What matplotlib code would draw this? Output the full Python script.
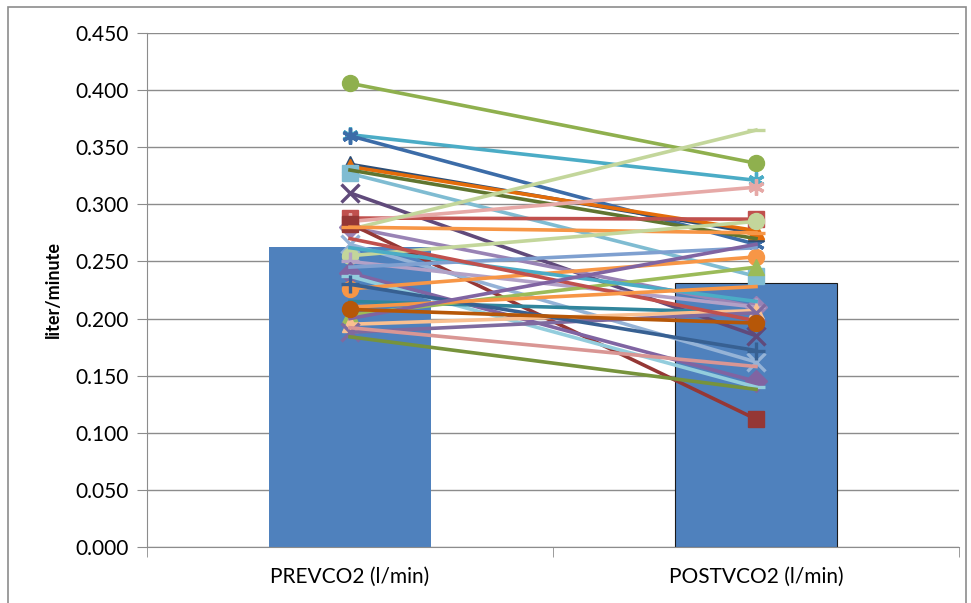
import matplotlib
matplotlib.use("Agg")
import matplotlib.pyplot as plt
from matplotlib.patches import Rectangle

categories = ["PREVCO2 (l/min)", "POSTVCO2 (l/min)"]
bar_means = [0.263, 0.231]

pre = [0.406, 0.361, 0.360, 0.335, 0.333, 0.327, 0.330, 0.310, 0.288, 0.285,
       0.278, 0.280, 0.283, 0.280, 0.265, 0.255, 0.250, 0.240, 0.237, 0.226,
       0.215, 0.203, 0.195, 0.188, 0.184, 0.192, 0.230, 0.262, 0.245, 0.270,
       0.210, 0.200, 0.208]
post = [0.336, 0.321, 0.265, 0.275, 0.277, 0.237, 0.270, 0.185, 0.287, 0.315,
        0.365, 0.210, 0.112, 0.275, 0.162, 0.285, 0.210, 0.145, 0.140, 0.254,
        0.205, 0.245, 0.207, 0.205, 0.138, 0.158, 0.172, 0.215, 0.262, 0.198,
        0.228, 0.265, 0.196]

yticks = [0.0, 0.05, 0.10, 0.15, 0.20, 0.25, 0.30, 0.35, 0.40, 0.45]

colors = ["#8FB04E", "#4BACC6", "#3C6CA8", "#2C4D75", "#E46C0A", "#7FBCD2",
          "#5F7530", "#604A7B", "#C0504D", "#E6A9A7", "#C3D69B", "#9983B5",
          "#953735", "#F79646", "#95B3D7", "#C3D69B", "#B2A1C7", "#8064A2",
          "#93CDDD", "#F79646", "#31859C", "#9BBB59", "#FAC090", "#7F6A9F",
          "#77933C", "#D99694", "#376092", "#4BACC6", "#7FA0D0", "#C0504D",
          "#F79646", "#8064A2", "#B65708"]
asterisk = (6, 2, 0)
markers = ["o", asterisk, asterisk, "^", "^", "s", None, "x", "s", asterisk,
           "_", "D", "s", "_", "x", "o", "+", "D", "_", "o",
           None, "^", "^", "x", None, None, "+", None, None, None,
           None, None, "o"]

fig = plt.figure(figsize=(9.71, 6.03), dpi=100)
fig.patches.append(Rectangle((8/971, -0.01), (966-8)/971, 1 - 7/603 + 0.01,
                             transform=fig.transFigure, fill=False,
                             edgecolor="#8C8C8C", linewidth=1.2))
ax = fig.add_axes([147/971, 1-547/603, (959-147)/971, (547-33)/603])

x = [0, 1]
bars = ax.bar(x, bar_means, width=0.4, color="#4F81BD", zorder=2)
bars[1].set_edgecolor("#1A1A1A")
bars[1].set_linewidth(0.8)

for i, (a, b) in enumerate(zip(pre, post)):
    m = markers[i]
    ax.plot(x, [a, b], color=colors[i], linewidth=2.6, zorder=3,
            marker=m if m is not None else "",
            markersize=11.5 if m not in ("x", "+", "_") else 12.5,
            markeredgewidth=2.4 if m in ("x", "+", "_", asterisk) else 1,
            markeredgecolor=colors[i], markerfacecolor=colors[i])

ax.set_xlim(-0.5, 1.5)
ax.set_ylim(0, 0.45)
ax.set_yticks(yticks)
ax.set_yticklabels([f"{v:.3f}" for v in yticks], fontsize=15, family="Lato")
ax.yaxis.grid(True, color="#8C8C8C", linewidth=1)
ax.set_axisbelow(True)
ax.set_xticks(x)
ax.set_xticklabels(categories, fontsize=15, family="Lato")
ax.set_xticks([-0.5, 0.5, 1.5], minor=True)
ax.tick_params(axis="x", which="major", length=0, pad=14)
ax.tick_params(axis="x", which="minor", length=7, color="#8C8C8C")
ax.tick_params(axis="y", length=7, color="#8C8C8C", pad=6)
for s in ["top", "right"]:
    ax.spines[s].set_visible(False)
ax.spines["left"].set_color("#8C8C8C")
ax.spines["bottom"].set_color("#8C8C8C")
ax.set_ylabel("liter/minute", fontsize=13, fontweight="bold", family="Lato", labelpad=10)

fig.savefig("out.png", dpi=100)
